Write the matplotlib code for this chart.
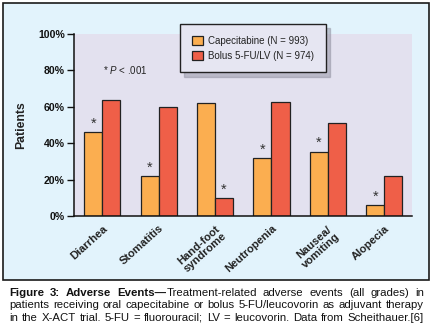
import matplotlib
matplotlib.use("Agg")
import matplotlib.pyplot as plt
from matplotlib.patches import Rectangle
import numpy as np

plt.rcParams['font.family'] = ['Liberation Sans', 'DejaVu Sans']
plt.rcParams['mathtext.fontset'] = 'custom'
plt.rcParams['mathtext.rm'] = 'Liberation Sans'
plt.rcParams['mathtext.it'] = 'Liberation Sans:italic'

categories = ['Diarrhea', 'Stomatitis', 'Hand-foot\nsyndrome', 'Neutropenia', 'Nausea/\nvomiting', 'Alopecia']
capecitabine = [46, 22, 62, 32, 35.5, 6]
bolus = [64, 60, 10, 62.5, 51, 22]
# which series carries the significance star (0 = capecitabine, 1 = bolus)
star_on = [0, 0, 1, 0, 0, 0]
series_labels = ['Capecitabine (N = 993)', 'Bolus 5-FU/LV (N = 974)']
yticks = [0, 20, 40, 60, 80, 100]
ytick_labels = ['0%', '20%', '40%', '60%', '80%', '100%']
caption_lines = [
    [("Figure 3: Adverse Events\u2014", 'bold'), ("Treatment-related adverse events (all grades) in", 'normal')],
    [("patients receiving oral capecitabine or bolus 5-FU/leucovorin as adjuvant therapy", 'normal')],
    [("in the X-ACT trial. 5-FU = fluorouracil; LV = leucovorin. Data from Scheithauer.[6]", 'normal')],
]

W, H = 432, 336
fig = plt.figure(figsize=(W / 100, H / 100), dpi=100)
fig.patch.set_facecolor('white')

# outer panel
panel = Rectangle((3 / W, 1 - 280 / H), 426 / W, 277 / H, transform=fig.transFigure,
                  facecolor='#e2f3fc', edgecolor='#1a1a1a', linewidth=1.2, zorder=0)
fig.patches.append(panel)

ax = fig.add_axes([74 / W, 1 - 216.3 / H, 338 / W, 182.3 / H])
ax.set_facecolor('#e3e1ef')
ax.set_zorder(1)

x = np.arange(len(categories))
bw = 0.32
c_cap = '#fbae50'
c_bol = '#ef5f48'
b1 = ax.bar(x - bw / 2, capecitabine, bw, color=c_cap, edgecolor='#222222', linewidth=0.9, label=series_labels[0])
b2 = ax.bar(x + bw / 2, bolus, bw, color=c_bol, edgecolor='#222222', linewidth=0.9, label=series_labels[1])

for i in range(len(categories)):
    if star_on[i] == 0:
        xs, ys = x[i] - bw / 2, capecitabine[i]
    else:
        xs, ys = x[i] + bw / 2, bolus[i]
    ax.text(xs, ys + 0.8, '*', ha='center', va='bottom', fontsize=10.5, color='#333333')

ax.set_xlim(-0.5, 5.49)
ax.set_ylim(0, 100)
ax.set_yticks(yticks)
ax.set_yticklabels(ytick_labels, fontsize=7.6, fontweight='bold', color='#222222')
ax.tick_params(axis='y', length=5, width=1, direction='out', pad=1.5, colors='#111111')
ax.set_xticks(x)
ax.set_xticklabels(categories, rotation=42, ha='right', rotation_mode='anchor',
                   fontsize=8, fontweight='bold', color='#222222', multialignment='center',
                   linespacing=1.05)
ax.tick_params(axis='x', length=0, pad=5)
for s in ['top', 'right']:
    ax.spines[s].set_visible(False)
for s in ['left', 'bottom']:
    ax.spines[s].set_linewidth(1.1)
    ax.spines[s].set_color('#111111')

ax.set_ylabel('Patients', fontsize=8.8, fontweight='bold', color='#222222')
ax.yaxis.set_label_coords(-0.138, 0.5)

ax.text(0.02, 80.5, '* $P$ < .001', fontsize=7.0, color='#222222', ha='left', va='center')

leg = ax.legend(handles=[b1, b2], loc='upper left', bbox_to_anchor=(180 / W, 1 - 24 / H),
                bbox_transform=fig.transFigure, borderaxespad=0, fontsize=7.0,
                handlelength=1.15, handleheight=1.15, handletextpad=0.55, labelspacing=0.5,
                borderpad=1.2, fancybox=False,
                shadow={'color': '#8a8a9a', 'alpha': 0.45, 'ox': 3, 'oy': -3},
                framealpha=1)
leg.get_frame().set_facecolor('#e6e6f2')
leg.get_frame().set_edgecolor('#222222')
leg.get_frame().set_linewidth(1.0)
for t in leg.get_texts():
    t.set_color('#222222')

# caption, justified
fig.canvas.draw()
r = fig.canvas.get_renderer()
x0, x1 = 9 / W, 424 / W
ys = [1 - 293 / H, 1 - 305.5 / H, 1 - 318 / H]

# choose a font size so the longest line fits with normal spacing
probe_fs = 8.0
probe = fig.text(0, 0, ' '.join(s for s, _ in caption_lines[1]), fontsize=probe_fs)
pw = probe.get_window_extent(r).width / W
probe.remove()
fs = probe_fs * (x1 - x0) / pw * 0.995

for li, line in enumerate(caption_lines):
    words = []
    for seg, wt in line:
        for wd in seg.split(' '):
            if wd:
                words.append((wd, wt))
    arts = []
    total = 0
    for wd, wt in words:
        t = fig.text(0, ys[li], wd, fontsize=fs, fontweight=wt, color='#111111', va='center', ha='left')
        w = t.get_window_extent(r).width / W
        arts.append((t, w))
        total += w
    njoins = sum(1 for k in range(len(words) - 1) if not words[k][0].endswith('\u2014'))
    gap = (x1 - x0 - total) / njoins
    pos = x0
    for k, (t, w) in enumerate(arts):
        t.set_x(pos)
        pos += w
        if words[k][0].endswith('\u2014'):
            continue
        pos += gap

fig.savefig('out.png', dpi=100, facecolor='white')
